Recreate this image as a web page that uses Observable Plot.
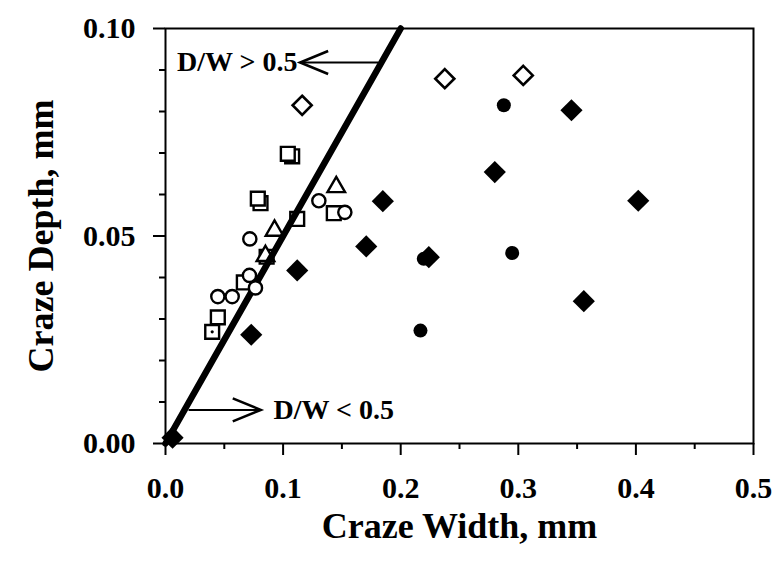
<!DOCTYPE html>
<html><head><meta charset="utf-8">
<script src="https://cdn.jsdelivr.net/npm/d3@7"></script>
<script src="https://cdn.jsdelivr.net/npm/@observablehq/plot@0.6"></script>
<style>html,body{margin:0;padding:0;background:#fff}</style>
</head><body><div id="chart"></div>
<script>
// ---- data (Craze Width W, Craze Depth D, mm) ----
const openSquareW = [0.1077, 0.0808, 0.0397, 0.0445, 0.0666, 0.0860, 0.1120, 0.1431, 0.0785, 0.1040];
const openSquareD = [0.0692, 0.0579, 0.0269, 0.0304, 0.0388, 0.0450, 0.0541, 0.0555, 0.0590, 0.0698];
const squareDotW = [0.0397];
const squareDotD = [0.0269];
const openTriangleW = [0.0927, 0.1452, 0.0850];
const openTriangleD = [0.0513, 0.0618, 0.0452];
const openCircleW = [0.0445, 0.0567, 0.0714, 0.0765, 0.0717, 0.1304, 0.1525];
const openCircleD = [0.0354, 0.0354, 0.0405, 0.0375, 0.0493, 0.0585, 0.0557];
const openDiamondW = [0.1162, 0.2375, 0.3042];
const openDiamondD = [0.0815, 0.0879, 0.0887];
const filledDiamondW = [0.006, 0.0729, 0.1120, 0.1707, 0.1848, 0.2239, 0.2800, 0.3452, 0.4020, 0.3557];
const filledDiamondD = [0.0014, 0.0262, 0.0417, 0.0475, 0.0584, 0.0449, 0.0654, 0.0803, 0.0585, 0.0343];
const filledCircleW = [0.2168, 0.2196, 0.2948, 0.2877];
const filledCircleD = [0.0272, 0.0445, 0.0459, 0.0815];
// boundary line D/W = 0.5
const boundaryW = [0, 0.2];
const boundaryD = [0, 0.1];
// annotations
const noteText = ["D/W > 0.5", "D/W < 0.5"];
const noteW = [0.1122, 0.0918];
const noteD = [0.0918, 0.0081];
const noteAnchor = ["end", "start"];
const arrowW1 = [0.181, 0.0196];
const arrowW2 = [0.1145, 0.0810];
const arrowD = [0.0918, 0.0081];
const arrowDir = [180, 0];
// ticks
const xTicks = [0, 0.1, 0.2, 0.3, 0.4, 0.5];
const xMinor = [0.05, 0.15, 0.25, 0.35, 0.45];
const yTicks = [0, 0.05, 0.1];
const yMinor = [0.01, 0.02, 0.03, 0.04, 0.06, 0.07, 0.08, 0.09];
const xTitle = "Craze Width, mm";
const yTitle = "Craze Depth, mm";

const rows = (W, D) => W.map((w, i) => ({w, d: D[i]}));
const notes = noteText.map((t, i) => ({t, w: noteW[i], d: noteD[i], a: noteAnchor[i]}));
const arrows = arrowW1.map((w, i) => ({x1: w, x2: arrowW2[i], y: arrowD[i], rot: arrowDir[i]}));
const FONT = "'Liberation Serif', 'Times New Roman', serif";

// open chevron arrowhead (tip at origin, pointing right)
const chevron = {
  draw(context, size) {
    const s = Math.sqrt(size / Math.PI);
    context.moveTo(-2.8 * s, -1.15 * s);
    context.lineTo(0, 0);
    context.lineTo(-2.8 * s, 1.15 * s);
  }
};

const chart = Plot.plot({
  width: 775, height: 567,
  marginLeft: 165, marginRight: 22, marginTop: 28, marginBottom: 124,
  x: {domain: [0, 0.5]},
  y: {domain: [0, 0.1]},
  style: {fontFamily: FONT, fontWeight: "bold", fontSize: "30px", color: "#000", background: "#fff"},
  marks: [
    Plot.axisX({ticks: xTicks, tickFormat: d3.format(".1f"), tickSize: 12, tickPadding: 21, strokeWidth: 2, label: null, fontSize: 30, fontWeight: "bold"}),
    Plot.axisX({ticks: xMinor, tickFormat: () => "", tickSize: 6, strokeWidth: 2, label: null}),
    Plot.axisY({ticks: yTicks, tickFormat: d3.format(".2f"), tickSize: 12, tickPadding: 18, strokeWidth: 2, label: null, fontSize: 30, fontWeight: "bold"}),
    Plot.axisY({ticks: yMinor, tickFormat: () => "", tickSize: 6, strokeWidth: 2, label: null}),
    Plot.frame({stroke: "#000", strokeWidth: 2}),
    Plot.dot(rows(openSquareW, openSquareD), {x: "w", y: "d", symbol: "square", r: 7.8, stroke: "#000", strokeWidth: 2.4, fill: "#fff"}),
    Plot.dot(rows(squareDotW, squareDotD), {x: "w", y: "d", r: 1.6, fill: "#000"}),
    Plot.dot(rows(openTriangleW, openTriangleD), {x: "w", y: "d", symbol: "triangle2", r: 8.4, stroke: "#000", strokeWidth: 2.4, fill: "#fff"}),
    Plot.line(rows(boundaryW, boundaryD), {x: "w", y: "d", stroke: "#000", strokeWidth: 6.5}),
    Plot.dot(rows(openCircleW, openCircleD), {x: "w", y: "d", r: 6.6, stroke: "#000", strokeWidth: 2.4, fill: "#fff"}),
    Plot.dot(rows(openDiamondW, openDiamondD), {x: "w", y: "d", symbol: "diamond2", r: 8.6, stroke: "#000", strokeWidth: 2.6, fill: "#fff"}),
    Plot.dot(rows(filledDiamondW, filledDiamondD), {x: "w", y: "d", symbol: "diamond2", r: 10, fill: "#000"}),
    Plot.dot(rows(filledCircleW, filledCircleD), {x: "w", y: "d", r: 7, fill: "#000"}),
    Plot.link(arrows, {x1: "x1", x2: "x2", y1: "y", y2: "y", stroke: "#000", strokeWidth: 2}),
    Plot.dot(arrows, {x: "x2", y: "y", symbol: chevron, r: 10, rotate: "rot", fill: "none", stroke: "#000", strokeWidth: 2.6, strokeLinejoin: "miter"}),
    Plot.text(notes.filter(r => r.a === "end"), {x: "w", y: "d", text: "t", textAnchor: "end", fontSize: 28, fontWeight: "bold"}),
    Plot.text(notes.filter(r => r.a === "start"), {x: "w", y: "d", text: "t", textAnchor: "start", fontSize: 28, fontWeight: "bold"}),
    Plot.text([xTitle], {frameAnchor: "bottom", textAnchor: "middle", dy: 94, fontSize: 36, fontWeight: "bold", letterSpacing: 0.6}),
    Plot.text([yTitle], {frameAnchor: "left", textAnchor: "middle", dx: -124, rotate: -90, fontSize: 36, fontWeight: "bold", letterSpacing: 0.6})
  ]
});
document.getElementById("chart").appendChild(chart);
</script>
</body></html>
